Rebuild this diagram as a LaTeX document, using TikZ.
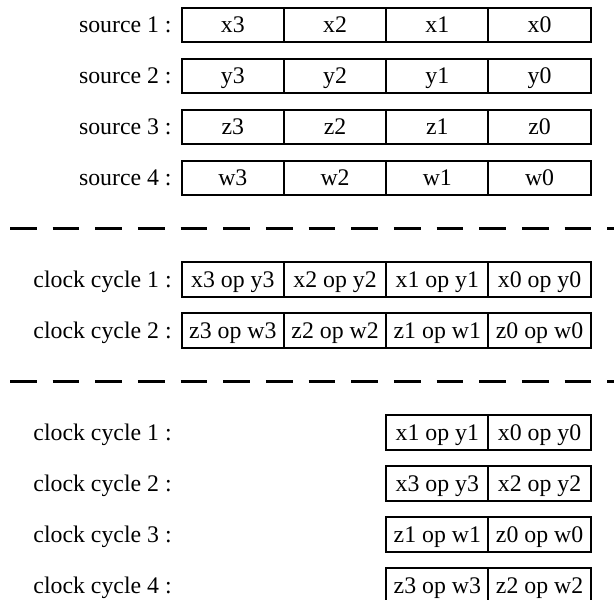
\documentclass[tikz,border=0pt]{standalone}
\usepackage{fontspec}
\setmainfont{Liberation Serif}
\usetikzlibrary{positioning}

\tikzset{
  cell/.style={draw,line width=1pt,minimum width=51.12pt,minimum height=17.2pt,
    inner sep=0pt,outer sep=0pt,text height=8pt,text depth=0pt,
    font=\fontsize{11.9}{14}\selectfont},
  rowlabel/.style={anchor=east,inner sep=0pt,text height=8pt,text depth=0pt,
    font=\fontsize{11.9}{14}\selectfont},
  divider/.style={line width=1.35pt,dash pattern=on 13.33pt off 8pt}
}

\begin{document}
\begin{tikzpicture}[x=0.5pt,y=-0.5pt]
\useasboundingbox (0,0) rectangle (614,599);
% the four sources, one word per cell
\foreach \ltr [count=\i] in {x,y,z,w} {
  \node[rowlabel] (src\i) at (172,{24.8+51*(\i-1)}) {source \i{} :};
  \node[cell,anchor=west] (\ltr3) at (181.7,{24.8+51*(\i-1)}) {\ltr3};
  \node[cell,right=0pt of \ltr3] (\ltr2) {\ltr2};
  \node[cell,right=0pt of \ltr2] (\ltr1) {\ltr1};
  \node[cell,right=0pt of \ltr1] (\ltr0) {\ltr0};
}
\draw[divider] (10,228.6) -- (640,228.6);
% full width: four operations per clock cycle
\foreach \a/\b [count=\i] in {x/y,z/w} {
  \node[rowlabel] (par\i) at (172,{228.6+51*\i}) {clock cycle \i{} :};
  \node[cell,anchor=west] (par\i-3) at (181.7,{228.6+51*\i}) {\a3 op \b3};
  \node[cell,right=0pt of par\i-3] (par\i-2) {\a2 op \b2};
  \node[cell,right=0pt of par\i-2] (par\i-1) {\a1 op \b1};
  \node[cell,right=0pt of par\i-1] (par\i-0) {\a0 op \b0};
}
\draw[divider] (10,381.6) -- (640,381.6);
% half width: two operations per clock cycle
\foreach \a/\b/\hi/\lo [count=\i] in {x/y/1/0,x/y/3/2,z/w/1/0,z/w/3/2} {
  \node[rowlabel] (seq\i) at (172,{381.6+51*\i}) {clock cycle \i{} :};
  \node[cell,anchor=west] (seq\i-hi) at (386.2,{381.6+51*\i}) {\a\hi{} op \b\hi};
  \node[cell,right=0pt of seq\i-hi] (seq\i-lo) {\a\lo{} op \b\lo};
}
\end{tikzpicture}
\end{document}
